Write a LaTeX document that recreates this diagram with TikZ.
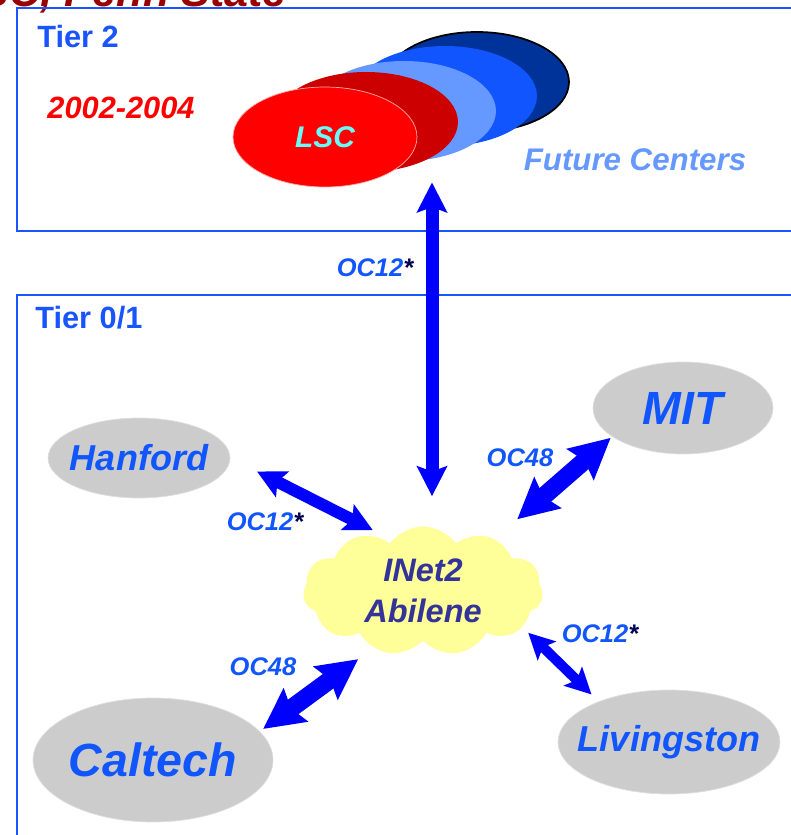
\documentclass[tikz,border=0pt]{standalone}
\usepackage{fontspec}
\setmainfont{Liberation Sans}
\usetikzlibrary{shapes,arrows.meta,positioning}
\definecolor{tierblue}{RGB}{25,85,255}
\definecolor{linkblue}{RGB}{0,0,255}
\definecolor{labelblue}{RGB}{17,85,255}
\definecolor{starnavy}{RGB}{0,0,80}
\definecolor{titlered}{RGB}{153,0,0}
\definecolor{futurenavy}{RGB}{0,51,153}
\definecolor{futureblue}{RGB}{17,85,255}
\definecolor{futurelight}{RGB}{102,153,255}
\definecolor{lscdark}{RGB}{204,0,0}
\definecolor{lscred}{RGB}{255,0,0}
\definecolor{lsccyan}{RGB}{102,255,255}
\definecolor{sitegray}{RGB}{204,204,204}
\definecolor{cloudyellow}{RGB}{255,255,153}
\definecolor{cloudtext}{RGB}{51,51,153}

\tikzset{
  tierbox/.style={draw=tierblue, line width=1.3pt},
  tierlabel/.style={anchor=west, inner sep=0pt, text=tierblue, font=\fontsize{17.5}{20}\selectfont\bfseries},
  lscdisk/.style={ellipse, minimum width=3.68cm, minimum height=2cm, inner sep=0pt},
  site/.style={ellipse, fill=sitegray, draw=gray!25, text=labelblue, inner sep=-9pt},
  link/.style={draw=linkblue, line width=#1},
  heads/.style={arrows={Stealth[length=#1,width=#1,inset=3pt]-Stealth[length=#1,width=#1,inset=3pt]}},
  rate/.style={text=labelblue, inner sep=0pt, font=\fontsize{14.5}{16}\selectfont\bfseries\itshape}
}

\begin{document}
\begin{tikzpicture}[x=0.02cm, y=-0.02cm]
  \useasboundingbox (0,0) rectangle (791,835);
  \clip (0,0) rectangle (791,835);

  % heading, cut off at the top
  \node[anchor=base east, inner sep=0pt, text=titlered, font=\fontsize{24.5}{28}\selectfont\bfseries\itshape] (title) at (287,7) {SC, Penn State};

  % tiers
  \draw[tierbox] (17,8) rectangle (805,231);
  \draw[tierbox] (17,295) rectangle (805,850);
  \node[tierlabel] (tiertwo) at (37,37) {Tier 2};
  \node[tierlabel] (tierzero) at (35,318) {Tier 0/1};

  % tier 2 centers
  \node[lscdisk, fill=futurenavy, draw=black, line width=1pt] (future3) at (477,82) {};
  \node[lscdisk, fill=futureblue] (future2) at (445,96) {};
  \node[lscdisk, fill=futurelight] (future1) at (404,111) {};
  \node[lscdisk, fill=lscdark] (lscback) at (366,122) {};
  \node[lscdisk, fill=lscred, draw=red!35!white, line width=0.4pt, text=lsccyan, font=\fontsize{17}{20}\selectfont\bfseries\itshape] (lsc) at (325,137) {LSC};
  \node[text=lscred, font=\fontsize{17.5}{20}\selectfont\bfseries\itshape] (years) at (121,108) {2002-2004};
  \node[text=futurelight, font=\fontsize{17.8}{20}\selectfont\bfseries\itshape] (future) at (635,160) {Future Centers};

  % tier 0/1 sites
  \node[cloud, cloud puffs=11, cloud puff arc=110, cloud ignores aspect, fill=cloudyellow, minimum width=4.8cm, minimum height=2.36cm, align=center, text=cloudtext, font=\fontsize{18.5}{23.2}\selectfont\bfseries\itshape] (inet) at (423,591) {INet2\\Abilene};
  \node[site, minimum width=3.64cm, minimum height=1.6cm, font=\fontsize{20.5}{24}\selectfont\bfseries\itshape] (hanford) at (139,458) {Hanford};
  \node[site, minimum width=3.6cm, minimum height=1.84cm, font=\fontsize{26.5}{30}\selectfont\bfseries\itshape] (mit) at (683,408) {MIT};
  \node[site, minimum width=4.8cm, minimum height=2.48cm, font=\fontsize{26.5}{30}\selectfont\bfseries\itshape] (caltech) at (153,760) {Caltech};
  \node[site, minimum width=4.44cm, minimum height=2.08cm, font=\fontsize{20.5}{24}\selectfont\bfseries\itshape] (livingston) at (669,742) {Livingston};

  % links
  \draw[link=7.4pt, heads=17pt, shorten <=17pt, shorten >=-2.8pt] ([xshift=0.18cm]inet.north) -- ([xshift=0.18cm]inet.north |- lsc.south);
  \draw[link=6.8pt, heads=16pt, shorten <=17pt, shorten >=12.5pt] (hanford.east) -- (inet.121);
  \draw[link=10.2pt, heads=22.7pt, shorten <=17pt, shorten >=1pt] (inet.36) -- (mit.202);
  \draw[link=10.2pt, heads=22.7pt, shorten <=2.3pt, shorten >=10.8pt] (caltech.15) -- (inet.229);
  \draw[link=5.7pt, heads=14.7pt, shorten <=4.5pt, shorten >=5.7pt] (inet.340) -- (livingston.150);

  \node[rate] (uprate) at (375,268) {OC12\textcolor{starnavy}{*}};
  \node[rate] (hanrate) at (265,522) {OC12\textcolor{starnavy}{*}};
  \node[rate] (mitrate) at (520,458) {OC48};
  \node[rate] (calrate) at (263,667) {OC48};
  \node[rate] (livrate) at (600,634) {OC12\textcolor{starnavy}{*}};
\end{tikzpicture}
\end{document}
